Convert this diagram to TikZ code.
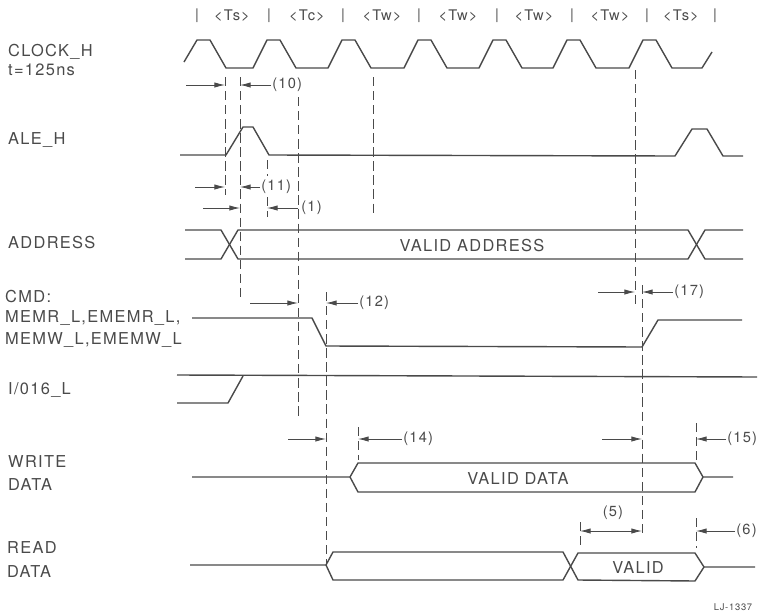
\documentclass[tikz,border=0pt]{standalone}
\usepackage{fontspec}
\setmainfont{TeX Gyre Heros}[LetterSpace=8]
\usetikzlibrary{arrows.meta}
\definecolor{ink}{HTML}{4a4a4a}

\begin{document}
\begin{tikzpicture}[x=0.03cm,y=-0.03cm,ink,line join=round,
  wave/.style={line width=1.2pt},
  guide/.style={dash pattern=on 8pt off 4pt,line width=0.8pt},
  meas/.style={-{Latex[length=9pt,width=4.5pt]},line width=0.7pt},
  lbl/.style={font=\fontsize{14}{16}\selectfont,anchor=west,inner sep=0pt},
  tag/.style={font=\fontsize{12.5}{15}\selectfont,anchor=west,inner xsep=1pt,inner ysep=0pt}]
\useasboundingbox (0,0) rectangle (774,614);

% signal names
\node[lbl] (A) at (8,52) {CLOCK\_H};
\node[lbl] (B) at (8,70) {t=125ns};
\node[lbl] (C) at (8,140) {ALE\_H};
\node[lbl] (D) at (8,243) {ADDRESS};
\node[lbl] (E) at (5,297) {CMD:};
\node[lbl] (F) at (5,318) {MEMR\_L,EMEMR\_L,};
\node[lbl] (G) at (5,340) {MEMW\_L,EMEMW\_L};
\node[lbl] (H) at (8,390) {I/016\_L};
\node[lbl] (I) at (8,462) {WRITE};
\node[lbl] (J) at (8,485) {DATA};
\node[lbl] (K) at (7,548) {READ};
\node[lbl] (L) at (7,572) {DATA};

% cycle header
\foreach \x [count=\i] in {197,269,343,419,497,572,647,715}
  \node[tag,anchor=center] (bar\i) at (\x,16) {|};
\foreach \x/\s [count=\i] in {232/Ts,307/Tc,382/Tw,458/Tw,534/Tw,610/Tw,681/Ts}
  \node[tag,anchor=center] (cyc\i) at (\x,16) {<\s>};

% clock
\draw[wave] (184,62) -- (197,40) -- (210,40) -- (226,68)
  foreach \t in {267,342,418,493,567,643} { -- ({\t-14},68) -- (\t,40) -- ({\t+13},40) -- ({\t+29},68) }
  -- (702,68) -- (712,52);

% ALE
\draw[wave] (180,155) -- (226,155) -- (243,127) -- (253,127) -- (269,155)
  -- (675,156) -- (692,129) -- (707,129) -- (723,156) -- (743,156);

% address
\draw[wave] (185,230) -- (221,230) -- (238,259) -- (688,259) -- (705,230) -- (743,230);
\draw[wave] (185,259) -- (221,259) -- (238,230) -- (688,230) -- (705,259) -- (743,259);
\node[lbl,anchor=center] (M) at (472,246) {VALID ADDRESS};

% command
\draw[wave] (192,318) -- (312,318) -- (326,346) -- (642,347) -- (658,320) -- (742,320);

% I/O16
\draw[wave] (177,375) -- (757,377);
\draw[wave] (177,403) -- (228,403) -- (243,376);

% write data
\draw[wave] (192,477) -- (350,477) -- (358,463) -- (695,463) -- (703,477) -- (733,477);
\draw[wave] (350,477) -- (358,492) -- (695,492) -- (703,477);
\node[lbl,anchor=center] (N) at (518,479) {VALID DATA};

% read data
\draw[wave] (190,565) -- (326,565) -- (333,552) -- (563,552) -- (578,580) -- (695,581) -- (704,567) -- (755,567);
\draw[wave] (326,565) -- (333,580) -- (563,580) -- (578,553) -- (695,553) -- (704,567);
\node[lbl,anchor=center] (O) at (638,568) {VALID};

% dashed guides
\draw[guide] (225,77) -- (225,195);
\draw[guide] (240,77) -- (240,297);
\draw[guide] (267,160) -- (267,176);
\draw[guide] (267,197) -- (267,217);
\draw[guide] (298,97) -- (298,418);
\draw[guide] (326,292) -- (326,563);
\draw[guide] (358,427) -- (358,460);
\draw[guide] (373,77) -- (373,217);
\draw[guide] (635,70) -- (635,307);
\draw[guide] (642,285) -- (642,537);
\draw[guide] (580,522) -- (580,550);
\draw[guide] (696,423) -- (696,460);
\draw[guide] (696,518) -- (696,548);

% (10)
\coordinate (a10) at (186,85);
\coordinate (b10) at (225,85);
\coordinate (c10) at (240,85);
\node[tag] (t10) at (271,85) {(10)};
\draw[meas] (a10) -- (b10);
\draw[meas] (t10) -- (c10);

% (11)
\coordinate (a11) at (195,187);
\coordinate (b11) at (225,187);
\coordinate (c11) at (240,187);
\node[tag] (t11) at (260,187) {(11)};
\draw[meas] (a11) -- (b11);
\draw[meas] (t11) -- (c11);

% (1)
\coordinate (a1) at (203,208);
\coordinate (b1) at (240,208);
\coordinate (c1) at (298,208);
\coordinate (d1) at (267,208);
\node[tag] (t1) at (300,208) {(1)};
\draw[meas] (a1) -- (b1);
\draw[meas] (c1) -- (d1);

% (12)
\coordinate (a12) at (250,303);
\coordinate (b12) at (298,303);
\coordinate (c12) at (326,303);
\node[tag] (t12) at (358,303) {(12)};
\draw[meas] (a12) -- (b12);
\draw[meas] (t12) -- (c12);

% (17)
\coordinate (a17) at (598,292);
\coordinate (b17) at (635,292);
\coordinate (c17) at (642,292);
\node[tag] (t17) at (673,292) {(17)};
\draw[meas] (a17) -- (b17);
\draw[meas] (t17) -- (c17);

% (14)
\coordinate (a14) at (288,439);
\coordinate (b14) at (326,439);
\coordinate (c14) at (358,439);
\node[tag] (t14) at (402,439) {(14)};
\draw[meas] (a14) -- (b14);
\draw[meas] (t14) -- (c14);

% (15)
\coordinate (a15) at (602,439);
\coordinate (b15) at (642,439);
\coordinate (c15) at (696,439);
\node[tag] (t15) at (726,439) {(15)};
\draw[meas] (a15) -- (b15);
\draw[meas] (t15) -- (c15);

% (5)
\coordinate (a5) at (580,531);
\coordinate (b5) at (642,531);
\node[tag,anchor=center] (t5) at (613,513) {(5)};
\draw[meas,{Latex[length=9pt,width=4.5pt]}-{Latex[length=9pt,width=4.5pt]}] (a5) -- (b5);

% (6)
\coordinate (c6) at (696,531);
\node[tag] (t6) at (735,531) {(6)};
\draw[meas] (t6) -- (c6);

\node[font=\fontsize{8}{9}\selectfont,inner sep=0pt] (P) at (733,607) {LJ-1337};
\end{tikzpicture}
\end{document}
